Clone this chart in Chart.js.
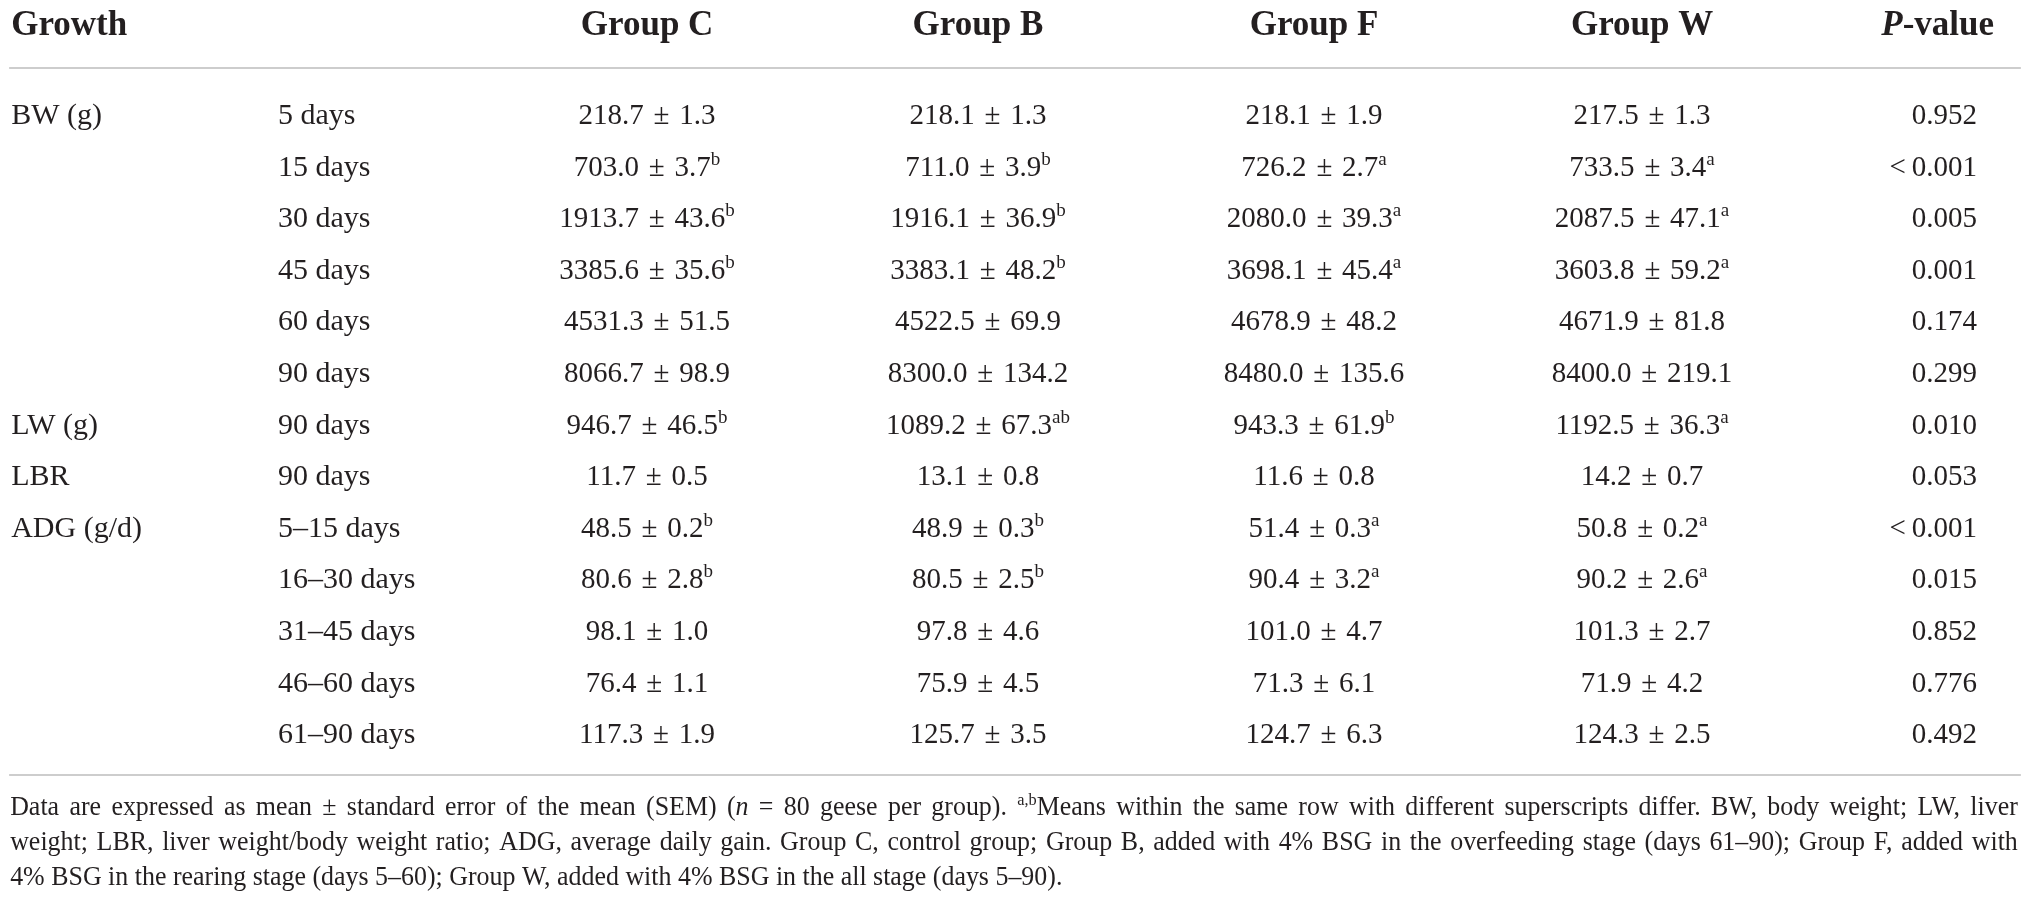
<!DOCTYPE html>
<html>
<head>
<meta charset="utf-8">
<script src="https://cdn.jsdelivr.net/npm/chart.js@4.4.1/dist/chart.umd.min.js"></script>
<style>
  html, body { margin: 0; padding: 0; background: #ffffff; }
  #wrap { width: 2031px; height: 915px; }
</style>
</head>
<body>
<div id="wrap"><canvas id="c" width="2031" height="915"></canvas></div>
<script>
// ---------------- DATA ----------------
const headers = ['Growth', '', 'Group C', 'Group B', 'Group F', 'Group W', 'P-value'];
const traits  = ['BW (g)', '', '', '', '', '', 'LW (g)', 'LBR', 'ADG (g/d)', '', '', '', ''];
const periods = ['5 days', '15 days', '30 days', '45 days', '60 days', '90 days', '90 days', '90 days',
                 '5–15 days', '16–30 days', '31–45 days', '46–60 days', '61–90 days'];

const meanC = [218.7, 703.0, 1913.7, 3385.6, 4531.3, 8066.7, 946.7, 11.7, 48.5, 80.6, 98.1, 76.4, 117.3];
const semC  = [1.3, 3.7, 43.6, 35.6, 51.5, 98.9, 46.5, 0.5, 0.2, 2.8, 1.0, 1.1, 1.9];
const supC  = ['', 'b', 'b', 'b', '', '', 'b', '', 'b', 'b', '', '', ''];

const meanB = [218.1, 711.0, 1916.1, 3383.1, 4522.5, 8300.0, 1089.2, 13.1, 48.9, 80.5, 97.8, 75.9, 125.7];
const semB  = [1.3, 3.9, 36.9, 48.2, 69.9, 134.2, 67.3, 0.8, 0.3, 2.5, 4.6, 4.5, 3.5];
const supB  = ['', 'b', 'b', 'b', '', '', 'ab', '', 'b', 'b', '', '', ''];

const meanF = [218.1, 726.2, 2080.0, 3698.1, 4678.9, 8480.0, 943.3, 11.6, 51.4, 90.4, 101.0, 71.3, 124.7];
const semF  = [1.9, 2.7, 39.3, 45.4, 48.2, 135.6, 61.9, 0.8, 0.3, 3.2, 4.7, 6.1, 6.3];
const supF  = ['', 'a', 'a', 'a', '', '', 'b', '', 'a', 'a', '', '', ''];

const meanW = [217.5, 733.5, 2087.5, 3603.8, 4671.9, 8400.0, 1192.5, 14.2, 50.8, 90.2, 101.3, 71.9, 124.3];
const semW  = [1.3, 3.4, 47.1, 59.2, 81.8, 219.1, 36.3, 0.7, 0.2, 2.6, 2.7, 4.2, 2.5];
const supW  = ['', 'a', 'a', 'a', '', '', 'a', '', 'a', 'a', '', '', ''];

const pValues = ['0.952', '<\u20090.001', '0.005', '0.001', '0.174', '0.299', '0.010', '0.053',
                 '<\u20090.001', '0.015', '0.852', '0.776', '0.492'];

const footnoteLines = [
  [['Data are expressed as mean ± standard error of the mean (SEM) (', 'r'], ['n', 'i'],
   [' = 80 geese per group). ', 'r'], ['a,b', 's'],
   ['Means within the same row with different superscripts differ. BW, body weight; LW, liver', 'r']],
  [['weight; LBR, liver weight/body weight ratio; ADG, average daily gain. Group C, control group; Group B, added with 4% BSG in the overfeeding stage (days 61–90); Group F, added with', 'r']],
  [['4% BSG in the rearing stage (days 5–60); Group W, added with 4% BSG in the all stage (days 5–90).', 'r']]
];

// ---------------- LAYOUT / STYLE ----------------
const FONT = '"Liberation Serif", "DejaVu Serif", serif';
const INK = '#231f20';
const RULE = '#cdcdcd';
const layout = {
  xMin: 0, xMax: 100,
  yMin: -2.403, yMax: 15.33,
  traitX: 0.55, periodX: 13.69,
  groupX: [31.86, 48.15, 64.70, 80.85],
  pX: 97.34, pHeadX: 98.18,
  headerRow: -1.72, ruleTop: -1.085, ruleBottom: 12.61,
  ruleLeft: 0.45, ruleRight: 99.5,
  footRows: [13.39, 14.07, 14.75], footLeft: 0.5, footRight: 99.35
};
const fonts = {
  r: '29px ' + FONT, lab: '30px ' + FONT, s: '19px ' + FONT, sRaise: 11,
  b: 'bold 35px ' + FONT, bi: 'italic bold 35px ' + FONT,
  fr: '27px ' + FONT, fi: 'italic 27px ' + FONT, fs: '17px ' + FONT, fsRaise: 10,
  footScaleX: 0.96,
  spaceStretch: 1.35
};

// ---------------- BUILD DATASETS ----------------
const fmt = v => v.toFixed(1);
function groupCells(means, sems, sups) {
  return means.map((m, i) => {
    const runs = [[fmt(m) + ' ± ' + fmt(sems[i]), 'v']];
    if (sups[i]) runs.push([sups[i], 's']);
    return runs;
  });
}
const rowIdx = periods.map((_, i) => i);
const groupData = [
  groupCells(meanC, semC, supC), groupCells(meanB, semB, supB),
  groupCells(meanF, semF, supF), groupCells(meanW, semW, supW)
];

const datasets = [];
const headerX = [layout.traitX, layout.periodX, ...layout.groupX, layout.pHeadX];
const headerAlign = ['left', 'left', 'center', 'center', 'center', 'center', 'right'];
headers.forEach((h, k) => {
  if (!h) return;
  const runs = h === 'P-value' ? [['P', 'bi'], ['-value', 'b']] : [[h, 'b']];
  datasets.push({ data: [{ x: headerX[k], y: layout.headerRow }], cells: [runs], align: headerAlign[k] });
});
datasets.push({ data: rowIdx.map(i => ({ x: layout.traitX, y: i })), cells: traits.map(t => [[t, 'l']]), align: 'left' });
datasets.push({ data: rowIdx.map(i => ({ x: layout.periodX, y: i })), cells: periods.map(t => [[t, 'l']]), align: 'left' });
groupData.forEach((cells, g) => {
  datasets.push({ data: rowIdx.map(i => ({ x: layout.groupX[g], y: i })), cells: cells, align: 'center' });
});
datasets.push({ data: rowIdx.map(i => ({ x: layout.pX, y: i })), cells: pValues.map(t => [[t, 'r']]), align: 'right' });
datasets.forEach(d => { d.pointRadius = 0; d.pointHoverRadius = 0; d.showLine = false; });

// ---------------- DRAWING ----------------
function runFont(style) {
  return { r: fonts.r, v: fonts.r, l: fonts.lab, s: fonts.s, b: fonts.b, bi: fonts.bi }[style];
}
function runPieces(ctx, t, s) {
  ctx.font = runFont(s);
  if (s !== 'v') return [{ t, w: ctx.measureText(t).width }];
  const sp = ctx.measureText(' ').width * fonts.spaceStretch;
  const out = [];
  t.split(' ').forEach((p, k) => {
    if (k > 0) out.push({ t: '', w: sp });
    out.push({ t: p, w: ctx.measureText(p).width });
  });
  return out;
}
function drawCell(ctx, runs, x, y, align) {
  let total = 0;
  const pieces = runs.map(([t, s]) => {
    const ps = runPieces(ctx, t, s);
    ps.forEach(p => total += p.w);
    return { s, ps };
  });
  let cx = align === 'left' ? x : align === 'right' ? x - total : x - total / 2;
  pieces.forEach(({ s, ps }) => {
    ctx.font = runFont(s);
    ps.forEach(p => {
      if (p.t) ctx.fillText(p.t, cx, s === 's' ? y - fonts.sRaise : y);
      cx += p.w;
    });
  });
}
function footFont(s) { return s === 'i' ? fonts.fi : s === 's' ? fonts.fs : fonts.fr; }
function drawFootLine(ctx, runs, x0, x1, y, justify) {
  const tokens = [];
  runs.forEach(([t, s]) => {
    t.split(' ').forEach((p, k) => {
      if (k > 0) tokens.push({ space: true, s });
      if (p) tokens.push({ t: p, s });
    });
  });
  let natural = 0, gaps = 0;
  tokens.forEach(tk => {
    ctx.font = footFont(tk.s);
    tk.w = tk.space ? ctx.measureText(' ').width : ctx.measureText(tk.t).width;
    natural += tk.w;
    if (tk.space) gaps++;
  });
  const target = (x1 - x0) / fonts.footScaleX;
  let scale = fonts.footScaleX, extra = 0;
  if (natural > target) scale = fonts.footScaleX * target / natural;
  else if (justify && gaps) extra = (target - natural) / gaps;
  ctx.save();
  ctx.translate(x0, y);
  ctx.scale(scale, 1);
  let cx = 0;
  tokens.forEach(tk => {
    if (tk.space) { cx += tk.w + extra; return; }
    ctx.font = footFont(tk.s);
    ctx.fillText(tk.t, cx, tk.s === 's' ? -fonts.fsRaise : 0);
    cx += tk.w;
  });
  ctx.restore();
}

const tablePlugin = {
  id: 'tableText',
  afterDatasetsDraw(chart) {
    const ctx = chart.ctx, xs = chart.scales.x, ys = chart.scales.y;
    ctx.save();
    ctx.strokeStyle = RULE;
    ctx.lineWidth = 2;
    [layout.ruleTop, layout.ruleBottom].forEach(v => {
      const py = Math.round(ys.getPixelForValue(v));
      ctx.beginPath();
      ctx.moveTo(xs.getPixelForValue(layout.ruleLeft), py);
      ctx.lineTo(xs.getPixelForValue(layout.ruleRight), py);
      ctx.stroke();
    });
    ctx.fillStyle = INK;
    ctx.textBaseline = 'alphabetic';
    ctx.textAlign = 'left';
    chart.data.datasets.forEach((ds, di) => {
      const meta = chart.getDatasetMeta(di);
      meta.data.forEach((pt, i) => {
        const runs = ds.cells[i];
        if (!runs || !runs[0][0]) return;
        drawCell(ctx, runs, pt.x, pt.y, ds.align);
      });
    });
    footnoteLines.forEach((runs, k) => {
      drawFootLine(ctx, runs, xs.getPixelForValue(layout.footLeft), xs.getPixelForValue(layout.footRight),
        ys.getPixelForValue(layout.footRows[k]), k < footnoteLines.length - 1);
    });
    ctx.restore();
  }
};

new Chart(document.getElementById('c'), {
  type: 'scatter',
  data: { datasets },
  options: {
    responsive: false,
    animation: false,
    devicePixelRatio: 1,
    layout: { padding: 0 },
    events: [],
    plugins: { legend: { display: false }, tooltip: { enabled: false }, title: { display: false } },
    scales: {
      x: { type: 'linear', min: layout.xMin, max: layout.xMax, display: false },
      y: { type: 'linear', min: layout.yMin, max: layout.yMax, reverse: true, display: false }
    }
  },
  plugins: [tablePlugin]
});
</script>
</body>
</html>
